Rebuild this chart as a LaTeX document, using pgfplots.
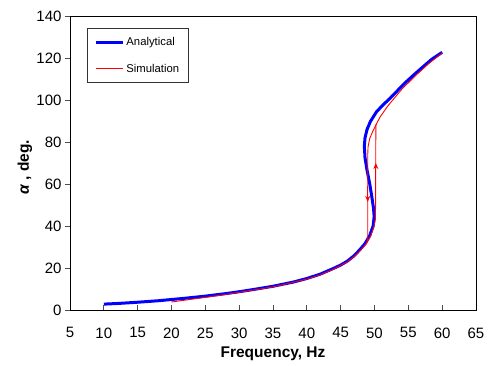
\documentclass[border=0pt]{standalone}
\usepackage{pgfplots}
\pgfplotsset{compat=1.18}
\usepackage{fontspec}
\setmainfont{Liberation Sans}
\usetikzlibrary{arrows.meta}
\begin{document}
\begin{tikzpicture}[x=1pt,y=1pt]
\path[use as bounding box] (-70,-55) rectangle (423,310);
\begin{axis}[
  at={(0,0)}, anchor=south west,
  scale only axis, width=406pt, height=294pt,
  xmin=5, xmax=65, ymin=0, ymax=140,
  xtick={5,10,...,65}, ytick={0,20,...,140},
  xtick align=inside, ytick align=outside,
  xtick pos=bottom, ytick pos=left,
  major tick length=5pt,
  tick style={black!70, line width=0.8pt},
  axis line style={black, line width=0.9pt},
  /pgf/number format/assume math mode=true,
  ticklabel style={font=\fontsize{15}{17}\selectfont},
  xticklabel style={yshift=-14pt},
  xlabel={\textbf{Frequency, Hz}},
  ylabel={\textbf{\textit{α} , deg.}},
  xlabel style={font=\fontsize{15.5}{18}\selectfont, at={(axis description cs:0.5,0)}, anchor=north, yshift=-33pt},
  ylabel style={font=\fontsize{15.5}{18}\selectfont, at={(axis description cs:-0.111,0.485)}, anchor=center},
  legend cell align=left,
  legend style={at={(rel axis cs:0.042,0.959)}, anchor=north west, draw=black!80, line width=0.8pt,
    font=\fontsize{11.3}{13}\selectfont, inner xsep=7pt, inner ysep=7pt, row sep=13pt},
]
\addlegendimage{legend image code/.code={\draw[blue, line width=3pt] (0pt,0pt) -- (27pt,0pt);}}
\addlegendentry{Analytical}
\addlegendimage{legend image code/.code={\draw[red, line width=1pt] (0pt,0pt) -- (27pt,0pt);}}
\addlegendentry{\textcolor{black}{Simulation}}
\addplot[color=blue, line width=3pt, line join=round, forget plot] coordinates {
(10,2.8) (12,3.1) (15,3.7) (18,4.4) (20,5.0) (22,5.6) (25,6.6) (28,7.8) (30,8.7)
(32,9.7) (35,11.3) (38,13.3) (40,15.0) (42,17.1) (44,19.9) (45,21.4) (46,23.3)
(47,25.9) (47.8,28.6) (48.6,31.6) (49.3,35.5) (49.8,40) (49.95,44.5) (49.85,48.5)
(49.6,54) (49.3,60) (48.9,66.5) (48.6,72.5) (48.5,78) (48.6,82) (48.9,86)
(49.4,89.8) (50.3,94.4) (51.3,97.8) (52.3,100.8) (53.5,104.8) (54.7,108.7)
(56,112.5) (57.2,115.9) (58.5,119.5) (60,122.7)
};
\addplot[color=red, line width=0.9pt, forget plot] coordinates {
(20,3.8) (22,4.7) (25,6.0) (28,7.4) (30,8.4) (35,11.0) (40,14.7) (42,16.8)
(44,19.5) (46,23.0) (47,25.5) (48,28.7) (48.8,31.6) (49.4,35) (49.9,39.5)
(50.15,43.5) (50.2,88) (50.8,91.8) (52,97.3) (54,105) (56,111.4) (58,117.3) (60,122.4)
};
\addplot[color=red, line width=0.9pt, forget plot] coordinates {
(50.3,88.6) (49.8,85.5) (49.3,81.7) (49.05,77.8) (49.0,74) (49.0,33.5) (48.8,31.6)
};
\addplot[color=red, fill=red, line width=0.8pt, forget plot, -{Stealth[length=6pt,width=5pt]}] coordinates {(50.2,63) (50.2,70)};
\addplot[color=red, fill=red, line width=0.8pt, forget plot, -{Stealth[length=6pt,width=5pt]}] coordinates {(49.0,59) (49.0,51.5)};
\end{axis}
\end{tikzpicture}
\end{document}
